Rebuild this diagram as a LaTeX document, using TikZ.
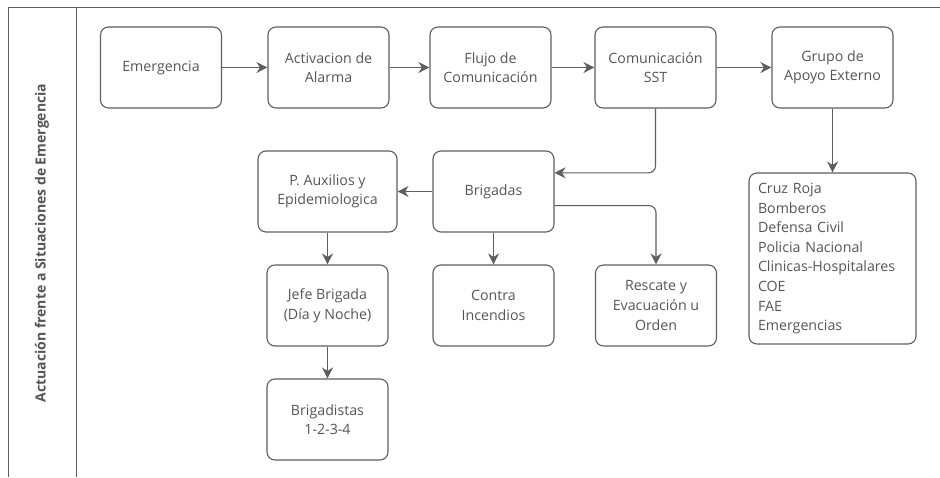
\documentclass[tikz,border=0pt]{standalone}
\usepackage{fontspec}
\setmainfont{Open Sans}
\usetikzlibrary{arrows.meta}
\definecolor{linea}{HTML}{5E5E5E}
\definecolor{texto}{HTML}{555555}
\begin{document}
\begin{tikzpicture}[x=1pt,y=-1pt]
 \tikzset{caja/.style={draw=linea, line width=1.1pt, rounded corners=8pt, minimum width=121pt, minimum height=81pt, align=center, text=texto, inner sep=2pt, font=\fontsize{14.2}{19.6}\selectfont}}
 \tikzset{directed/.style={-{Stealth[length=11pt,width=11pt,inset=3.5pt]}, draw=linea, line width=1.1pt}}
  \useasboundingbox (0,0) rectangle (940,477);
  \draw[linea, line width=1pt] (940,7.5) -- (8.5,7.5) -- (8.5,477) (76.5,7.5) -- (76.5,477);
  \node[rotate=90, text=texto, font=\bfseries\fontsize{14}{16}\selectfont] (TITULO) at (42,243) {Actuación frente a Situaciones de Emergencia};
  \node[caja] (EMERG) at (161,67.5) {Emergencia};
  \node[caja] (ALARMA) at (328.5,67.5) {Activacion de\\Alarma};
  \node[caja] (FLUJO) at (490.5,67.5) {Flujo de\\Comunicación};
  \node[caja] (SST) at (655.5,67.5) {Comunicación\\SST};
  \node[caja] (APOYO) at (832.5,67.5) {Grupo de\\Apoyo Externo};
  \node[caja, minimum width=139pt] (AUX) at (327.5,191.5) {P. Auxilios y\\Epidemiologica};
  \node[caja] (BRIG) at (493.5,191.5) {Brigadas};
  \node[caja] (JEFE) at (327.5,305.5) {Jefe Brigada\\(Día y Noche)};
  \node[caja] (CONTRA) at (493.5,305.5) {Contra\\Incendios};
  \node[caja] (RESCATE) at (656,305.5) {Rescate y\\Evacuación u\\Orden};
  \node[caja] (BRIGADISTAS) at (327.5,419.5) {Brigadistas\\1-2-3-4};
  \node[caja, minimum width=167pt, minimum height=171pt, text width=149pt, inner xsep=9pt, align=left] (EXTERNOS) at (832.5,258.5) {Cruz Roja\\Bomberos\\Defensa Civil\\Policia Nacional\\Clinicas-Hospitalares\\COE\\FAE\\Emergencias};
  \draw[directed] (EMERG) -- (ALARMA);
  \draw[directed] (ALARMA) -- (FLUJO);
  \draw[directed] (FLUJO) -- (SST);
  \draw[directed] (SST) -- (APOYO);
  \draw[directed] (APOYO) -- (EXTERNOS);
  \draw[directed, rounded corners=7pt] (SST.south) |- (BRIG.17);
  \draw[directed, rounded corners=7pt] (BRIG.-13) -| (RESCATE.north);
  \draw[directed] (BRIG) -- (AUX);
  \draw[directed] (BRIG) -- (CONTRA);
  \draw[directed] (AUX) -- (JEFE);
  \draw[directed] (JEFE) -- (BRIGADISTAS);
%  \draw[directed] (BRIG) -- (JEFE);
\end{tikzpicture}
\end{document}
